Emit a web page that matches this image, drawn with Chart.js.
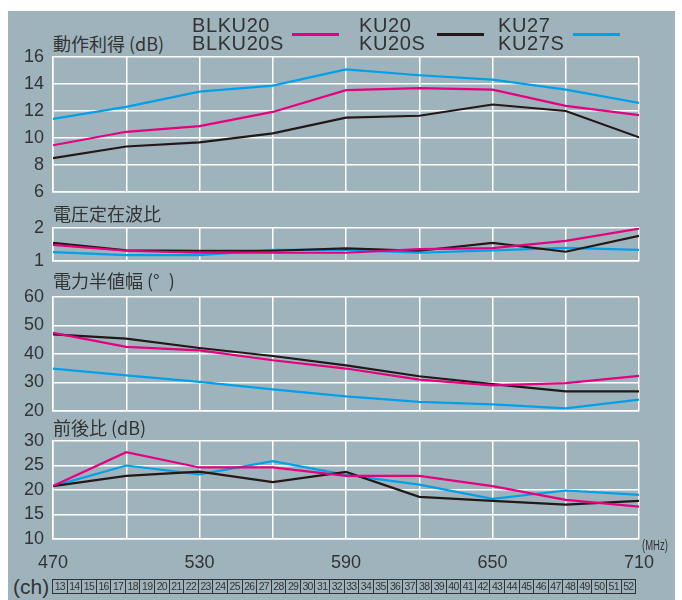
<!DOCTYPE html>
<html>
<head>
<meta charset="utf-8">
<script src="https://cdn.jsdelivr.net/npm/chart.js@4.4.0/dist/chart.umd.min.js"></script>
<style>
  body { margin: 0; background: #fff; width: 682px; height: 600px; position: relative; overflow: hidden;
         font-family: 'Liberation Sans', 'Noto Sans CJK JP', sans-serif; color: #333; }
  #panel { position: absolute; left: 8px; top: 11px; width: 667px; height: 589px; background: #9fb3bd; }
  canvas { position: absolute; left: 0; }
  .title { position: absolute; left: 53px; font-size: 18px; line-height: 18px; white-space: nowrap;
           font-family: 'Noto Sans CJK JP', 'Liberation Sans', sans-serif; }
  .lg-text { position: absolute; top: 16px; font-size: 20px; line-height: 18px; letter-spacing: 0.6px; }
  .lg-line { position: absolute; top: 33px; height: 3px; width: 47px; }
  #ch { position: absolute; left: 52px; top: 579px; width: 584px; height: 15px; display: flex;
        border: 1px solid #333; box-sizing: border-box; }
  #ch div { flex: 1; border-right: 1px solid #333; font-size: 10.5px; letter-spacing: -0.7px;
            text-align: center; line-height: 13px; }
  #ch div:last-child { border-right: none; }
  #chLabel { position: absolute; left: 13px; top: 575px; font-size: 21px; }
  #mhz { position: absolute; left: 642px; top: 537px; font-size: 14px; transform: scaleX(0.68);
         transform-origin: left top; }
</style>
</head>
<body>
<div id="panel"></div>

<script>
  // ---- data ----
  const freqs = [470, 500, 530, 560, 590, 620, 650, 680, 710];
  const seriesNames = [['BLKU20', 'BLKU20S'], ['KU20', 'KU20S'], ['KU27', 'KU27S']];
  const seriesColors = ['#e4007f', '#231815', '#00a0e9'];
  const channels = [13, 14, 15, 16, 17, 18, 19, 20, 21, 22, 23, 24, 25, 26, 27, 28, 29, 30, 31, 32,
                    33, 34, 35, 36, 37, 38, 39, 40, 41, 42, 43, 44, 45, 46, 47, 48, 49, 50, 51, 52];
  const freqLabels = [470, 530, 590, 650, 710];

  // 動作利得 (dB)
  const gainBLKU20 = [9.46, 10.46, 10.88, 11.93, 13.55, 13.7, 13.58, 12.38, 11.7];
  const gainKU20   = [8.51, 9.37, 9.68, 10.34, 11.51, 11.65, 12.48, 12.0, 10.05];
  const gainKU27   = [11.41, 12.3, 13.43, 13.88, 15.08, 14.65, 14.33, 13.58, 12.6];

  // 電圧定在波比
  const vswrBLKU20 = [1.49, 1.31, 1.25, 1.25, 1.25, 1.36, 1.39, 1.61, 1.98];
  const vswrKU20   = [1.55, 1.32, 1.31, 1.31, 1.38, 1.31, 1.55, 1.28, 1.76];
  const vswrKU27   = [1.27, 1.18, 1.18, 1.34, 1.34, 1.25, 1.32, 1.40, 1.34];

  // 電力半値幅 (°)
  const beamBLKU20 = [47.4, 42.5, 41.3, 37.8, 34.9, 31.0, 29.0, 29.8, 32.3];
  const beamKU20   = [46.9, 45.4, 42.1, 39.3, 36.0, 32.2, 29.4, 26.9, 26.9];
  const beamKU27   = [34.9, 32.5, 30.2, 27.6, 25.1, 23.2, 22.3, 20.9, 24.0];

  // 前後比 (dB)
  const fbBLKU20 = [20.8, 27.7, 24.6, 24.6, 22.9, 22.9, 20.8, 18.0, 16.6];
  const fbKU20   = [20.8, 22.9, 23.75, 21.6, 23.7, 18.6, 17.8, 17.0, 17.8];
  const fbKU27   = [20.8, 25.0, 23.2, 25.9, 23.1, 21.1, 18.2, 19.9, 19.0];

  /* ========================================================
     panels: plot-area top/bottom in page px + axis range
     ======================================================== */
  const panels = [
    { title: '動作利得 (dB)', titleY: 34,  top: 57,  bottom: 192, min: 6,  max: 16, step: 2,  sets: [gainBLKU20, gainKU20, gainKU27] },
    { title: '電圧定在波比',   titleY: 204, top: 228, bottom: 261, min: 1,  max: 2,  step: 1,  sets: [vswrBLKU20, vswrKU20, vswrKU27] },
    { title: '電力半値幅 (°\u2002)', titleY: 271, top: 297, bottom: 411, min: 20, max: 60, step: 10, sets: [beamBLKU20, beamKU20, beamKU27] },
    { title: '前後比 (dB)',   titleY: 418, top: 441, bottom: 539, min: 10, max: 30, step: 5,  sets: [fbBLKU20, fbKU20, fbKU27], last: true }
  ];

  const PAD = 12;
  const X_AXIS_H = 36;
  const tickFont = { family: "'Liberation Sans', sans-serif", size: 18 };

  panels.forEach(p => {
    const t = document.createElement('div');
    t.className = 'title';
    t.style.top = p.titleY + 'px';
    t.textContent = p.title;
    document.body.appendChild(t);

    const canvas = document.createElement('canvas');
    const h = (p.bottom - p.top) + PAD + (p.last ? X_AXIS_H : PAD);
    canvas.width = 682;
    canvas.height = h;
    canvas.style.top = (p.top - PAD) + 'px';
    canvas.style.width = '682px';
    canvas.style.height = h + 'px';
    document.body.appendChild(canvas);

    new Chart(canvas.getContext('2d'), {
      type: 'line',
      data: {
        labels: freqs,
        datasets: p.sets.map((d, i) => ({
          label: seriesNames[i].join(' '),
          data: d,
          borderColor: seriesColors[i],
          borderWidth: 2.2,
          pointRadius: 0,
          tension: 0,
          fill: false
        }))
      },
      options: {
        responsive: false,
        animation: false,
        layout: { padding: { left: 0, right: 43, top: PAD, bottom: p.last ? 0 : PAD } },
        plugins: { legend: { display: false }, tooltip: { enabled: false } },
        scales: {
          x: {
            type: 'linear',
            min: 470,
            max: 710,
            border: { color: '#ffffff', width: 1.5 },
            grid: { color: '#ffffff', lineWidth: 1.5, drawTicks: false },
            ticks: {
              display: !!p.last,
              stepSize: 30,
              padding: 13,
              color: '#333333',
              font: tickFont,
              maxRotation: 0,
              autoSkip: false,
              callback: v => freqLabels.includes(v) ? String(v) : ''
            },
            afterFit: s => {
              s.height = p.last ? X_AXIS_H : 0;
              s.paddingLeft = 0; s.paddingRight = 0;
            }
          },
          y: {
            min: p.min,
            max: p.max,
            border: { color: '#ffffff', width: 1.5 },
            grid: { color: '#ffffff', lineWidth: 1.5, drawTicks: false },
            ticks: { stepSize: p.step, autoSkip: false, padding: 9, color: '#333333', font: tickFont },
            afterFit: s => {
              s.width = 53;
              s.paddingTop = 0; s.paddingBottom = 0;
            }
          }
        }
      }
    });
  });

  // legend (two-line names + line swatch)
  const legendTextX = [192, 359, 498];
  const legendLineX = [292, 437, 573];
  seriesNames.forEach((names, i) => {
    const txt = document.createElement('div');
    txt.className = 'lg-text';
    txt.style.left = legendTextX[i] + 'px';
    txt.innerHTML = names.join('<br>');
    document.body.appendChild(txt);
    const ln = document.createElement('div');
    ln.className = 'lg-line';
    ln.style.left = legendLineX[i] + 'px';
    ln.style.background = seriesColors[i];
    document.body.appendChild(ln);
  });

  // channel strip
  const chLabel = document.createElement('div');
  chLabel.id = 'chLabel';
  chLabel.textContent = '(ch)';
  document.body.appendChild(chLabel);
  const ch = document.createElement('div');
  ch.id = 'ch';
  channels.forEach(c => {
    const cell = document.createElement('div');
    cell.textContent = c;
    ch.appendChild(cell);
  });
  document.body.appendChild(ch);

  const mhz = document.createElement('div');
  mhz.id = 'mhz';
  mhz.textContent = '(MHz)';
  document.body.appendChild(mhz);
</script>
</body>
</html>
